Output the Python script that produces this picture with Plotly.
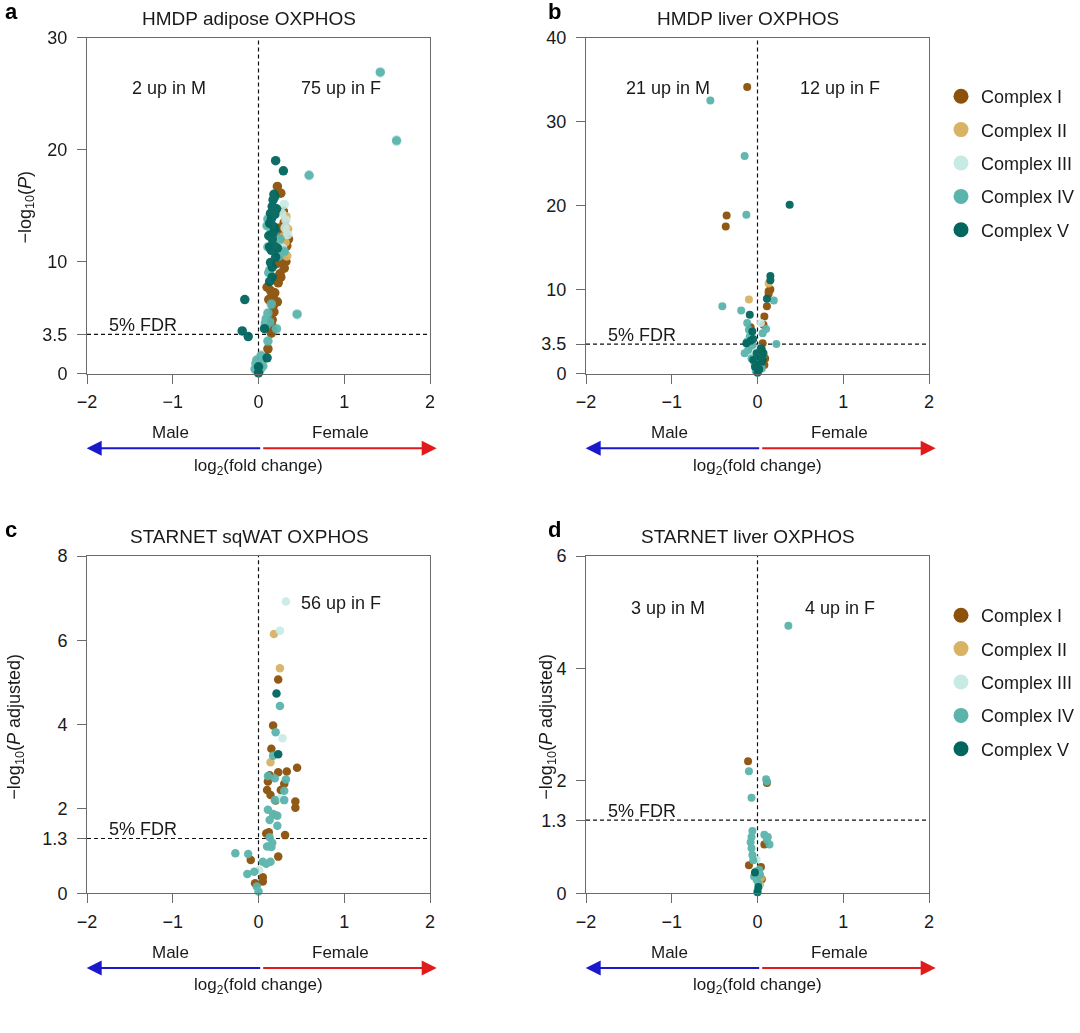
import plotly.graph_objects as go

# ---------------- data ----------------
COMPLEXES = ["Complex I", "Complex II", "Complex III", "Complex IV", "Complex V"]
COLORS = ["#8c510a", "#d8b365", "#c7eae5", "#5ab4ac", "#01665e"]

# Panel a: HMDP adipose OXPHOS  (complex index 0..4)
A_X = [0.22, 0.26, 0.29, 0.30, 0.35, 0.28, 0.24, 0.32, 0.27, 0.25, 0.26, 0.10, 0.14, 0.16, 0.12, 0.22,
       0.17, 0.18, 0.16, 0.16, 0.15, 0.11, 0.33, 0.30, 0.27, 0.21, 0.23, 0.19, 0.15, 0.31, 0.25, 0.20,
       0.34, 0.31, 0.32, 0.29, 0.33,
       0.30, 0.32, 0.31, 0.28, 0.34, 0.27, 0.26,
       0.59, 1.61, 1.42, 0.11, 0.25, 0.11, 0.30, 0.13, 0.15, 0.45, 0.11, 0.09, 0.13, 0.09, 0.21, 0.11,
       -0.02, 0.04, -0.04, 0.02, 0.05, 0.10, 0.12, 0.24, 0.15, 0.08, -0.03, 0.03,
       0.20, 0.29, 0.18, 0.17, 0.16, 0.21, 0.14, 0.19, 0.15, 0.19, 0.16, 0.18, 0.13, 0.22, 0.16, 0.16,
       -0.16, 0.07, -0.19, -0.12, 0.10, 0.00, 0.00, 0.13, 0.18, 0.15, 0.20, 0.14, 0.12, 0.17, 0.19, 0.13]
A_Y = [16.7, 16.1, 14.5, 13.5, 12.0, 12.3, 10.7, 10.0, 10.0, 8.9, 8.6, 7.7, 7.4, 7.0, 6.6, 6.4,
       6.0, 5.5, 4.8, 3.9, 3.6, 2.2, 11.4, 9.4, 11.0, 9.8, 8.1, 7.2, 4.4, 12.8, 13.0, 8.4,
       12.9, 11.7, 14.0, 12.2, 10.5,
       15.1, 13.7, 13.0, 11.2, 12.4, 14.3, 10.8,
       17.7, 20.8, 26.9, 13.8, 12.0, 11.3, 10.9, 9.2, 6.2, 5.3, 5.4, 4.9, 4.6, 4.3, 4.0, 2.9,
       1.2, 1.2, 0.4, 0.35, 0.65, 13.2, 9.0, 10.5, 12.6, 4.5, 0.9, 1.6,
       19.0, 18.1, 16.0, 15.5, 14.9, 14.7, 14.3, 14.2, 13.8, 12.8, 12.0, 11.4, 11.3, 11.2, 9.5, 8.6,
       6.6, 4.0, 3.8, 3.3, 1.4, 0.6, 0.05, 13.4, 13.1, 11.0, 10.4, 9.9, 12.3, 12.5, 15.8, 8.2]
A_C = [0] * 32 + [1] * 5 + [2] * 7 + [3] * 28 + [4] * 32

# Panel b: HMDP liver OXPHOS
B_X = [-0.12, -0.36, -0.37, 0.15, 0.13, 0.11, 0.08, 0.07, 0.06, 0.08, -0.08, 0.05, 0.09, 0.13,
       0.13, -0.10, 0.06,
       0.04, -0.04, 0.02, -0.07,
       -0.55, -0.15, -0.13, 0.19, -0.41, -0.19, -0.12, 0.10, -0.10, -0.09, 0.22, -0.09, -0.07, 0.01,
       -0.11, -0.15, -0.12, 0.05, -0.02, 0.03, -0.06, 0.06,
       0.375, 0.15, 0.15, 0.11, -0.09, -0.06, -0.13, -0.05, -0.01, 0.03, -0.03, 0.05, -0.05, 0.07,
       0.04, -0.02, 0.00, 0.06, -0.08, 0.02]
B_Y = [34.1, 18.8, 17.5, 10.0, 9.5, 8.0, 6.8, 5.8, 3.6, 1.0, 5.5, 2.9, 1.8, 9.8,
       10.7, 8.8, 2.1,
       6.0, 1.2, 3.0, 2.6,
       32.5, 25.9, 18.9, 8.7, 8.0, 7.5, 6.0, 5.3, 5.2, 4.4, 3.5, 3.2, 1.8, 0.2,
       2.8, 2.4, 3.8, 0.6, 0.3, 1.2, 3.4, 4.8,
       20.1, 11.6, 11.1, 8.9, 7.0, 5.0, 3.6, 4.1, 2.4, 2.0, 0.8, 1.4, 1.6, 2.4,
       3.0, 1.1, 0.1, 1.7, 3.9, 0.5]
B_C = [0] * 14 + [1] * 3 + [2] * 4 + [3] * 22 + [4] * 20

# Panel c: STARNET sqWAT OXPHOS
C_X = [0.17, 0.23, 0.15, 0.45, 0.33, 0.23, 0.11, 0.26, 0.10, 0.14, 0.43, 0.43, 0.09, 0.31, 0.23,
       -0.09, 0.05, 0.05, -0.04, 0.12, 0.20, 0.30, 0.13,
       0.18, 0.25, 0.14, 0.20,
       0.32, 0.25, 0.28, 0.01, 0.25,
       0.25, 0.20, 0.17, 0.11, 0.19, 0.32, 0.30, 0.19, 0.30, 0.11, 0.17, 0.22, 0.13, 0.13, 0.10, 0.15,
       -0.27, -0.12, 0.05, 0.14, -0.13, -0.05, -0.02, 0.00, 0.09, 0.16, 0.22,
       0.21, 0.23]
C_Y = [3.98, 5.07, 3.43, 2.98, 2.89, 2.87, 2.65, 2.45, 2.45, 2.33, 2.18, 2.03, 1.42, 1.38, 0.87,
       0.79, 0.38, 0.28, 0.24, 1.45, 2.20, 2.60, 2.80,
       6.15, 5.34, 3.11, 1.85,
       6.92, 6.23, 3.68, 0.55, 2.25,
       4.44, 3.82, 3.26, 2.78, 2.73, 2.70, 2.43, 2.21, 2.21, 1.98, 1.88, 1.84, 1.74, 1.33, 1.11, 1.10,
       0.95, 0.93, 0.75, 0.75, 0.46, 0.51, 0.16, 0.04, 0.70, 1.20, 1.60,
       4.74, 3.30]
C_C = [0] * 23 + [1] * 4 + [2] * 5 + [3] * 27 + [4] * 2

# Panel d: STARNET liver OXPHOS
D_X = [-0.11, 0.11, 0.08, -0.10, 0.04, 0.05,
       0.04, 0.03,
       -0.01, 0.02,
       0.36, -0.10, 0.10, 0.11, -0.07, -0.06, 0.08, 0.11, 0.14, -0.08, -0.07, -0.06, -0.05, -0.02,
       0.03, -0.01, 0.01, 0.00, 0.12, -0.07, -0.04, 0.02,
       -0.03, 0.01, 0.00]
D_Y = [2.35, 1.96, 0.87, 0.50, 0.47, 0.25,
       0.27, 0.15,
       0.60, 0.12,
       4.76, 2.17, 2.03, 1.99, 1.70, 1.11, 1.04, 0.95, 0.87, 0.91, 0.80, 0.68, 0.59, 0.39,
       0.33, 0.24, 0.18, 0.05, 1.00, 1.00, 0.30, 0.42,
       0.37, 0.11, 0.02]
D_C = [0] * 6 + [1] * 2 + [2] * 2 + [3] * 22 + [4] * 3

PANEL_TITLES = ["HMDP adipose OXPHOS", "HMDP liver OXPHOS", "STARNET sqWAT OXPHOS", "STARNET liver OXPHOS"]
PANEL_LETTERS = ["a", "b", "c", "d"]
Y_MAX = [30, 40, 8, 6]
FDR = [3.5, 3.5, 1.3, 1.3]
Y_TICKS = [[0, 3.5, 10, 20, 30], [0, 3.5, 10, 20, 30, 40], [0, 1.3, 2, 4, 6, 8], [0, 1.3, 2, 4, 6]]
X_TICKS = [-2, -1, 0, 1, 2]
LEFT_LABELS = ["2 up in M", "21 up in M", None, "3 up in M"]
RIGHT_LABELS = ["75 up in F", "12 up in F", "56 up in F", "4 up in F"]
Y_TITLES = ["−log<sub>10</sub>(<i>P</i>)", None,
            "−log<sub>10</sub>(<i>P</i> adjusted)", "−log<sub>10</sub>(<i>P</i> adjusted)"]
MARKER_SIZES = [9.5, 8, 8.5, 8]

DATA = [(A_X, A_Y, A_C), (B_X, B_Y, B_C), (C_X, C_Y, C_C), (D_X, D_Y, D_C)]

# ---------------- layout helpers ----------------
W, H = 1080, 1033
FONT = "Liberation Sans, Arial, Helvetica, sans-serif"
TXT = "#1a1a1a"
AXC = "#6b6b6b"


def px(x):
    return x / W


def py(y):
    return 1 - y / H


# panel frames in pixels: (left, right, top, bottom)
FRAMES = [(87, 430, 37.5, 373.5), (586, 929, 37.5, 373.5),
          (87, 430, 556, 893.3), (586, 929, 556, 893.3)]

fig = go.Figure()
annotations = []
shapes = []

for i in range(4):
    xs, ys, cs = DATA[i]
    ax_id = "" if i == 0 else str(i + 1)
    xref, yref = "x" + ax_id, "y" + ax_id
    for k in range(5):
        px_ = [x for x, c in zip(xs, cs) if c == k]
        py_ = [y for y, c in zip(ys, cs) if c == k]
        fig.add_trace(go.Scatter(
            x=px_, y=py_, mode="markers", xaxis=xref, yaxis=yref,
            marker=dict(color=COLORS[k], size=MARKER_SIZES[i], line=dict(width=0)),
            opacity=0.95 if k != 2 else 0.9, cliponaxis=False, showlegend=False,
            hoverinfo="skip"))

    l, r, t, b = FRAMES[i]
    xa = dict(domain=[px(l), px(r)], range=[-2, 2], anchor=yref, showgrid=False, zeroline=False,
              showline=True, linecolor=AXC, linewidth=1, mirror=True, ticks="outside", ticklen=9,
              tickcolor=AXC, tickwidth=1, tickvals=X_TICKS, automargin=False,
              ticklabelstandoff=3,
              tickfont=dict(size=18, color=TXT, family=FONT), fixedrange=True)
    ya = dict(domain=[py(b), py(t)], range=[0, Y_MAX[i]], anchor=xref, showgrid=False, zeroline=False,
              showline=True, linecolor=AXC, linewidth=1, mirror=True, ticks="outside", ticklen=9,
              tickcolor=AXC, tickwidth=1, tickvals=Y_TICKS[i], automargin=False,
              ticktext=[str(v) for v in Y_TICKS[i]], ticklabelstandoff=6,
              tickfont=dict(size=18, color=TXT, family=FONT), fixedrange=True)
    fig.update_layout({"xaxis" + ax_id: xa, "yaxis" + ax_id: ya})

    # dashed guide lines
    shapes.append(dict(type="line", xref=xref, yref=yref, x0=0, x1=0, y0=0, y1=Y_MAX[i],
                       line=dict(color="#111111", width=1.2, dash="4px,3px"), layer="below"))
    shapes.append(dict(type="line", xref=xref, yref=yref, x0=-2, x1=2, y0=FDR[i], y1=FDR[i],
                       line=dict(color="#111111", width=1.2, dash="4px,3px"), layer="below"))

    dx = l - 87
    dy = b - 373.5

    # title and panel letter
    annotations.append(dict(xref="paper", yref="paper", x=px(l + 162), y=py(18 + (t - 37.5)),
                            text=PANEL_TITLES[i], showarrow=False, xanchor="center", yanchor="middle",
                            font=dict(size=19, color=TXT, family=FONT)))
    annotations.append(dict(xref="paper", yref="paper", x=px(3 + (0 if i % 2 == 0 else 543)),
                            y=py(12 + (0 if i < 2 else 517)), text="<b>" + PANEL_LETTERS[i] + "</b>",
                            showarrow=False, xanchor="left", yanchor="middle",
                            font=dict(size=22, color="#000000", family=FONT)))
    # count labels
    lab_y = 88 if i < 2 else (603 if i == 2 else 608)
    if LEFT_LABELS[i]:
        annotations.append(dict(xref="paper", yref="paper", x=px(l + 82), y=py(lab_y),
                                text=LEFT_LABELS[i], showarrow=False, xanchor="center",
                                yanchor="middle", font=dict(size=18, color=TXT, family=FONT)))
    annotations.append(dict(xref="paper", yref="paper", x=px(l + 254), y=py(lab_y),
                            text=RIGHT_LABELS[i], showarrow=False, xanchor="center",
                            yanchor="middle", font=dict(size=18, color=TXT, family=FONT)))
    # FDR label
    fdr_py = b - FDR[i] * (b - t) / Y_MAX[i]
    annotations.append(dict(xref="paper", yref="paper", x=px(l + 20), y=py(fdr_py - 9),
                            text="5% FDR", showarrow=False, xanchor="left", yanchor="middle",
                            font=dict(size=18, color=TXT, family=FONT)))
    # y axis title
    if Y_TITLES[i]:
        ytx = (26 if i == 0 else 16) + (0 if i % 2 == 0 else 532)
        annotations.append(dict(xref="paper", yref="paper", x=px(ytx), y=py((t + b) / 2 + 2),
                                text=Y_TITLES[i], showarrow=False, textangle=-90,
                                xanchor="center", yanchor="middle",
                                font=dict(size=18, color=TXT, family=FONT)))
    # sex arrows
    arr_y = 448.3 + dy
    annotations.append(dict(xref="paper", yref="paper", x=px(86.7 + dx), y=py(arr_y),
                            ax=175, ay=0, axref="pixel", ayref="pixel", text="", showarrow=True,
                            arrowhead=2, arrowsize=1.5, arrowwidth=2, arrowcolor="#1a1acc",
                            standoff=0, startstandoff=0))
    annotations.append(dict(xref="paper", yref="paper", x=px(436.7 + dx), y=py(arr_y),
                            ax=-175, ay=0, axref="pixel", ayref="pixel", text="", showarrow=True,
                            arrowhead=2, arrowsize=1.5, arrowwidth=2, arrowcolor="#e01b1b",
                            standoff=0, startstandoff=0))
    annotations.append(dict(xref="paper", yref="paper", x=px(170 + dx), y=py(433 + dy),
                            text="Male", showarrow=False, xanchor="center", yanchor="middle",
                            font=dict(size=17, color=TXT, family=FONT)))
    annotations.append(dict(xref="paper", yref="paper", x=px(340 + dx), y=py(433 + dy),
                            text="Female", showarrow=False, xanchor="center", yanchor="middle",
                            font=dict(size=17, color=TXT, family=FONT)))
    annotations.append(dict(xref="paper", yref="paper", x=px(258.5 + dx), y=py(466.5 + dy),
                            text="log<sub>2</sub>(fold change)", showarrow=False, xanchor="center",
                            yanchor="middle", font=dict(size=17, color=TXT, family=FONT)))

# legend entries (two legends, next to panels b and d)
for lg, (xr, yr) in zip(["legend", "legend2"], [("x2", "y2"), ("x4", "y4")]):
    for k in range(5):
        fig.add_trace(go.Scatter(x=[None], y=[None], mode="markers", xaxis=xr, yaxis=yr,
                                 name=COMPLEXES[k], legend=lg, legendgroup=lg + str(k),
                                 marker=dict(color=COLORS[k], size=15), showlegend=True))

legend_common = dict(xanchor="left", yanchor="top", bgcolor="rgba(0,0,0,0)", borderwidth=0,
                     font=dict(size=18, color=TXT, family=FONT), itemsizing="trace",
                     tracegroupgap=7, traceorder="grouped", itemwidth=30)

fig.update_layout(
    width=W, height=H, margin=dict(l=0, r=0, t=0, b=0, pad=0, autoexpand=False),
    paper_bgcolor="white", plot_bgcolor="white",
    font=dict(family=FONT, color=TXT),
    showlegend=True,
    legend=dict(x=px(941), y=py(78), **legend_common),
    legend2=dict(x=px(941), y=py(597), **legend_common),
    annotations=annotations, shapes=shapes,
)

fig.write_html("out.html")
